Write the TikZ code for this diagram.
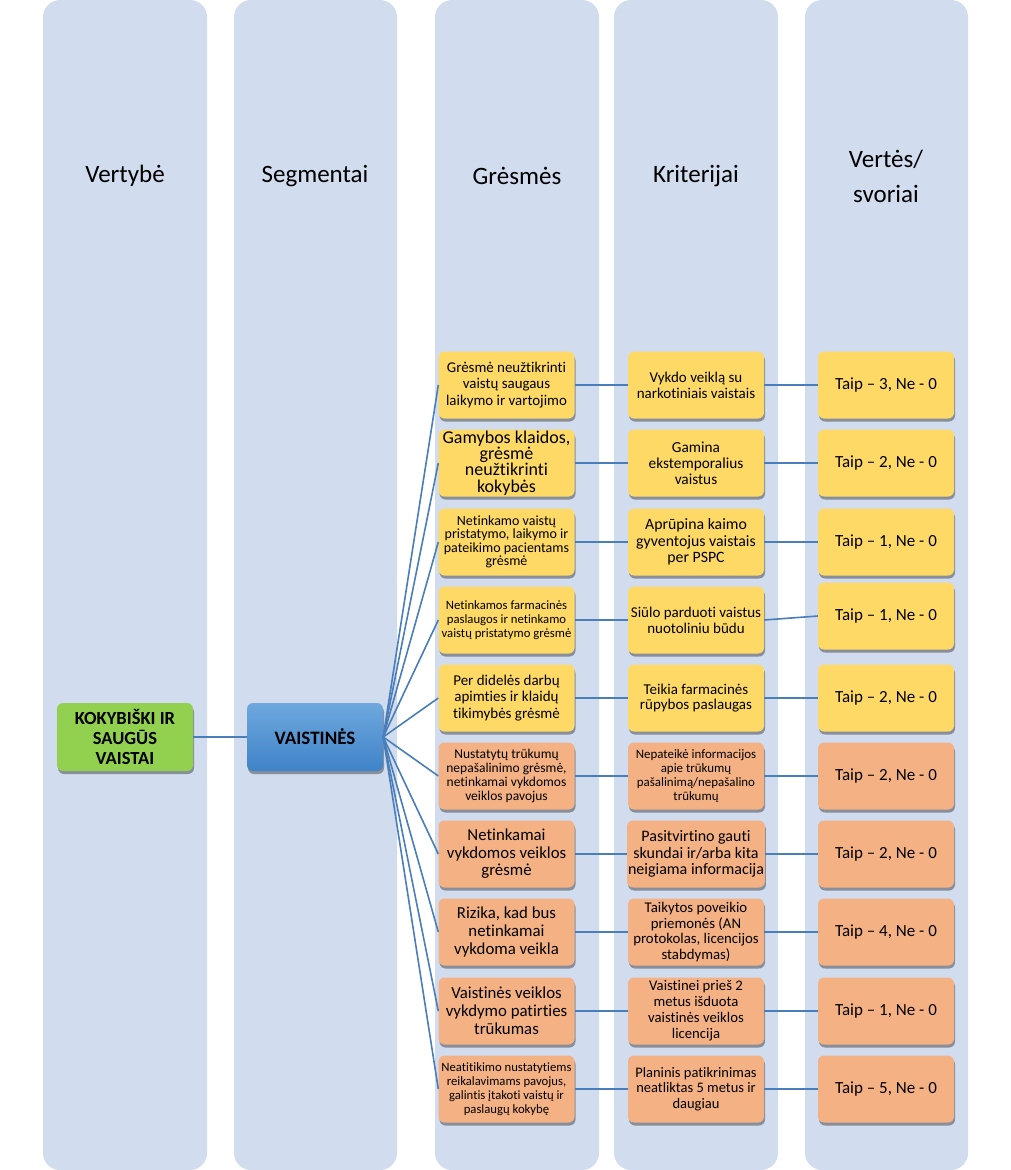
\documentclass[tikz,border=0pt]{standalone}
\usepackage{fontspec}
\setmainfont{Carlito}[Ligatures=NoCommon]
\usetikzlibrary{shadows}
\definecolor{colbg}{HTML}{D1DCEE}
\definecolor{ylw}{HTML}{FED966}
\definecolor{org}{HTML}{F4B183}
\definecolor{grn}{HTML}{92D050}
\definecolor{lnk}{HTML}{4A7EBB}
\definecolor{btop}{HTML}{6EA8DE}
\definecolor{bbot}{HTML}{3F83C8}
\newcommand{\fz}[2]{\fontsize{#1}{#2}\selectfont}
\begin{document}
\begin{tikzpicture}[x=1pt,y=-1pt,
  colbox/.style={fill=colbg, rounded corners=17pt},
  hdr/.style={font=\fz{25}{35}, align=center, text=black},
  base/.style={rounded corners=6pt, minimum width=136pt, minimum height=67pt, inner sep=1pt, align=center, text=black,
    drop shadow={shadow xshift=1pt, shadow yshift=-3pt, opacity=.35, fill=black}},
  yb/.style={base, fill=ylw},
  ob/.style={base, fill=org},
  wt/.style={font=\fz{17}{18}},
  link/.style={draw=lnk, line width=1.6pt}]
\useasboundingbox (0,0) rectangle (1011,1170);
% columns
\fill[colbox] (43,0) rectangle (207,1170);
\fill[colbox] (234,0) rectangle (397,1170);
\fill[colbox] (435,0) rectangle (599,1170);
\fill[colbox] (614,0) rectangle (778,1170);
\fill[colbox] (805,0) rectangle (968,1170);
% headers
\node[hdr] (h1) at (125,176) {Vertybė};
\node[hdr] (h2) at (315,176) {Segmentai};
\node[hdr] (h3) at (517,176) {Grėsmės};
\node[hdr] (h4) at (696,176) {Kriterijai};
\node[hdr] (h5) at (886,176) {Vertės/\\svoriai};
% left nodes
\node[base, fill=grn, minimum height=68pt, font=\bfseries\fz{18.5}{20}] (v) at (125,737) {KOKYBIŠKI IR\\SAUGŪS\\VAISTAI};
\node[base, top color=btop, bottom color=bbot, minimum height=68pt, font=\bfseries\fz{19}{20}] (s) at (315,737) {VAISTINĖS};
% threats
\node[yb, font=\fz{14.9}{16.5}] (g1) at (506.5,385) {Grėsmė neužtikrinti\\vaistų saugaus\\laikymo ir vartojimo};
\node[yb, font=\fz{18}{16.3}] (g2) at (506.5,463) {Gamybos klaidos,\\grėsmė\\neužtikrinti\\kokybės};
\node[yb, font=\fz{14}{13.5}] (g3) at (506.5,542) {Netinkamo vaistų\\pristatymo, laikymo ir\\pateikimo pacientams\\grėsmė};
\node[yb, font=\fz{12.7}{14}] (g4) at (506.5,620) {Netinkamos farmacinės\\paslaugos ir netinkamo\\vaistų pristatymo grėsmė};
\node[yb, font=\fz{15}{16.3}] (g5) at (506.5,698) {Per didelės darbų\\apimties ir klaidų\\tikimybės grėsmė};
\node[ob, font=\fz{13.5}{14.2}] (g6) at (506.5,776) {Nustatytų trūkumų\\nepašalinimo grėsmė,\\netinkamai vykdomos\\veiklos pavojus};
\node[ob, font=\fz{16.8}{17.5}] (g7) at (506.5,854) {Netinkamai\\vykdomos veiklos\\grėsmė};
\node[ob, font=\fz{16.8}{17.7}] (g8) at (506.5,932) {Rizika, kad bus\\netinkamai\\vykdoma veikla};
\node[ob, font=\fz{16.8}{18}] (g9) at (506.5,1011) {Vaistinės veiklos\\vykdymo patirties\\trūkumas};
\node[ob, font=\fz{12.7}{14}] (g10) at (506.5,1089) {Neatitikimo nustatytiems\\reikalavimams pavojus,\\galintis įtakoti vaistų ir\\paslaugų kokybę};
% criteria
\node[yb, font=\fz{15}{16}] (k1) at (696,385) {Vykdo veiklą su\\narkotiniais vaistais};
\node[yb, font=\fz{15.3}{16}] (k2) at (696,463) {Gamina\\ekstemporalius\\vaistus};
\node[yb, font=\fz{15.8}{16.7}] (k3) at (696,542) {Aprūpina kaimo\\gyventojus vaistais\\per PSPC};
\node[yb, font=\fz{15}{16}] (k4) at (696,620) {Siūlo parduoti vaistus\\nuotoliniu būdu};
\node[yb, font=\fz{15}{15.7}] (k5) at (696,698) {Teikia farmacinės\\rūpybos paslaugas};
\node[ob, font=\fz{12.9}{14}] (k6) at (696,776) {Nepateikė informacijos\\apie trūkumų\\pašalinimą/nepašalino\\trūkumų};
\node[ob, font=\fz{16}{16.7}] (k7) at (696,854) {Pasitvirtino gauti\\skundai ir/arba kita\\neigiama informacija};
\node[ob, font=\fz{14.8}{15.7}] (k8) at (696,932) {Taikytos poveikio\\priemonės (AN\\protokolas, licencijos\\stabdymas)};
\node[ob, font=\fz{14.7}{16}] (k9) at (696,1011) {Vaistinei prieš 2\\metus išduota\\vaistinės veiklos\\licencija};
\node[ob, font=\fz{14.5}{15.7}] (k10) at (696,1089) {Planinis patikrinimas\\neatliktas 5 metus ir\\daugiau};
% weights
\node[yb, wt] (w1) at (886,385) {Taip – 3, Ne - 0};
\node[yb, wt] (w2) at (886,463) {Taip – 2, Ne - 0};
\node[yb, wt] (w3) at (886,542) {Taip – 1, Ne - 0};
\node[yb, wt] (w4) at (886,616) {Taip – 1, Ne - 0};
\node[yb, wt] (w5) at (886,698) {Taip – 2, Ne - 0};
\node[ob, wt] (w6) at (886,776) {Taip – 2, Ne - 0};
\node[ob, wt] (w7) at (886,854) {Taip – 2, Ne - 0};
\node[ob, wt] (w8) at (886,932) {Taip – 4, Ne - 0};
\node[ob, wt] (w9) at (886,1011) {Taip – 1, Ne - 0};
\node[ob, wt] (w10) at (886,1089) {Taip – 5, Ne - 0};
% connectors
\draw[link] (v.east) -- (s.west);
\foreach \i in {1,...,10} {
  \draw[link] (s.east) -- (g\i.west);
  \draw[link] (g\i.east) -- (k\i.west);
  \draw[link] (k\i.east) -- (w\i.west);
}
\end{tikzpicture}
\end{document}
